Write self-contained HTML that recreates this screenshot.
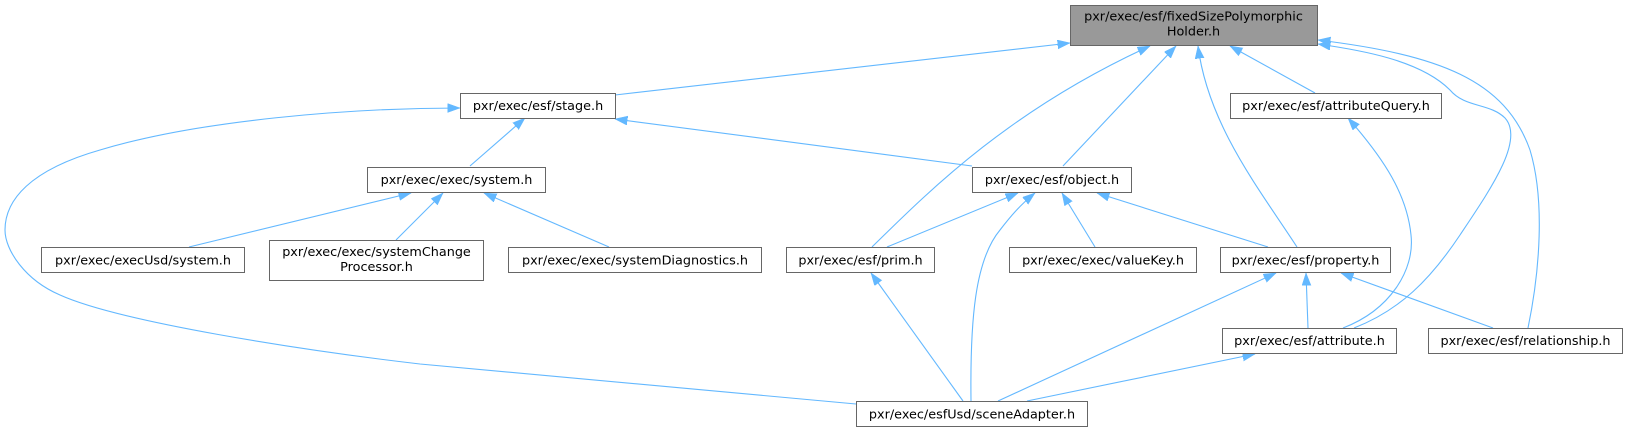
<!DOCTYPE html>
<html>
<head>
<meta charset="utf-8">
<style>
html,body{margin:0;padding:0;background:#fff;}
svg{display:block;}
text{font-family:"DejaVu Sans","Liberation Sans",sans-serif;font-size:12.8px;fill:#000;text-anchor:middle;}
.n{fill:#fff;stroke:#666;stroke-width:1;}
.h{fill:#999;stroke:#666;stroke-width:1;}
.e{fill:none;stroke:#63b8ff;stroke-width:1.1;}
</style>
</head>
<body>
<svg width="1628" height="432" viewBox="0 0 1628 432" xmlns="http://www.w3.org/2000/svg">
<defs>
<marker id="a" markerUnits="userSpaceOnUse" markerWidth="13" markerHeight="10" refX="12.5" refY="4.5" orient="auto">
<path d="M0,0 L12.5,4.5 L0,9 Z" fill="#63b8ff" stroke="#63b8ff" stroke-width="0.5"/>
</marker>
</defs>

<!-- edges -->
<path class="e" marker-end="url(#a)" d="M615,95 L1070,43"/>
<path class="e" marker-end="url(#a)" d="M872,247 C930,190 1010,110 1150,46"/>
<path class="e" marker-end="url(#a)" d="M1063,166 L1176,46"/>
<path class="e" marker-end="url(#a)" d="M1297,247 C1260,190 1208,125 1198,46"/>
<path class="e" marker-end="url(#a)" d="M1315,93 L1230,46"/>
<path class="e" marker-end="url(#a)" d="M1354,328 C1400,310 1430,280 1460,235 C1490,190 1525,140 1505,118 C1490,103 1465,108 1450,90 C1420,60 1360,50 1318,44"/>
<path class="e" marker-end="url(#a)" d="M1528,328 C1540,270 1545,200 1530,150 C1505,80 1440,55 1318,40"/>
<path class="e" marker-end="url(#a)" d="M972,166 L615,119"/>
<path class="e" marker-end="url(#a)" d="M470,166 L525,118"/>
<path class="e" marker-end="url(#a)" d="M856,404 L420,364 C300,350 120,322 60,295 C25,280 5,250 5,230 C5,200 30,170 100,150 C200,120 350,108 460,108"/>
<path class="e" marker-end="url(#a)" d="M189,247 L411,193"/>
<path class="e" marker-end="url(#a)" d="M396,240 L443,193"/>
<path class="e" marker-end="url(#a)" d="M609,247 L484,193"/>
<path class="e" marker-end="url(#a)" d="M887,247 L1018,193"/>
<path class="e" marker-end="url(#a)" d="M971,401 C970,320 975,260 1000,230 C1010,217 1020,205 1035,193"/>
<path class="e" marker-end="url(#a)" d="M1095,247 L1062,193"/>
<path class="e" marker-end="url(#a)" d="M1268,247 L1097,193"/>
<path class="e" marker-end="url(#a)" d="M963,401 L871,273"/>
<path class="e" marker-end="url(#a)" d="M998,401 L1276,273"/>
<path class="e" marker-end="url(#a)" d="M1027,401 L1255,354"/>
<path class="e" marker-end="url(#a)" d="M1308,328 L1306,273"/>
<path class="e" marker-end="url(#a)" d="M1493,328 L1341,273"/>
<path class="e" marker-end="url(#a)" d="M1343,328 C1390,310 1415,270 1411,235 C1407,195 1385,160 1348,118"/>

<!-- nodes -->
<rect class="h" x="1070.5" y="5.5" width="247" height="40"/>
<text x="1193.5" y="20.5">pxr/exec/esf/fixedSizePolymorphic</text>
<text x="1193.5" y="35.5">Holder.h</text>

<rect class="n" x="460.5" y="93.5" width="155" height="25"/>
<text x="538" y="110">pxr/exec/esf/stage.h</text>

<rect class="n" x="1230.5" y="93.5" width="211" height="25"/>
<text x="1336" y="110">pxr/exec/esf/attributeQuery.h</text>

<rect class="n" x="367.5" y="167.5" width="178" height="25"/>
<text x="456.5" y="184">pxr/exec/exec/system.h</text>

<rect class="n" x="972.5" y="167.5" width="159" height="25"/>
<text x="1052" y="184">pxr/exec/esf/object.h</text>

<rect class="n" x="41.5" y="247.5" width="203" height="25"/>
<text x="143" y="264.5">pxr/exec/execUsd/system.h</text>

<rect class="n" x="269.5" y="240.5" width="214" height="40"/>
<text x="376.5" y="256">pxr/exec/exec/systemChange</text>
<text x="376.5" y="271">Processor.h</text>

<rect class="n" x="508.5" y="247.5" width="253" height="25"/>
<text x="635" y="264.5">pxr/exec/exec/systemDiagnostics.h</text>

<rect class="n" x="786.5" y="247.5" width="148" height="25"/>
<text x="860.5" y="264.5">pxr/exec/esf/prim.h</text>

<rect class="n" x="1009.5" y="247.5" width="187" height="25"/>
<text x="1103" y="264.5">pxr/exec/exec/valueKey.h</text>

<rect class="n" x="1220.5" y="247.5" width="170" height="25"/>
<text x="1305.5" y="264.5">pxr/exec/esf/property.h</text>

<rect class="n" x="1222.5" y="328.5" width="174" height="25"/>
<text x="1309.5" y="345">pxr/exec/esf/attribute.h</text>

<rect class="n" x="1428.5" y="328.5" width="194" height="25"/>
<text x="1525.5" y="345">pxr/exec/esf/relationship.h</text>

<rect class="n" x="856.5" y="401.5" width="231" height="25"/>
<text x="972" y="418.5">pxr/exec/esfUsd/sceneAdapter.h</text>
</svg>
</body>
</html>
